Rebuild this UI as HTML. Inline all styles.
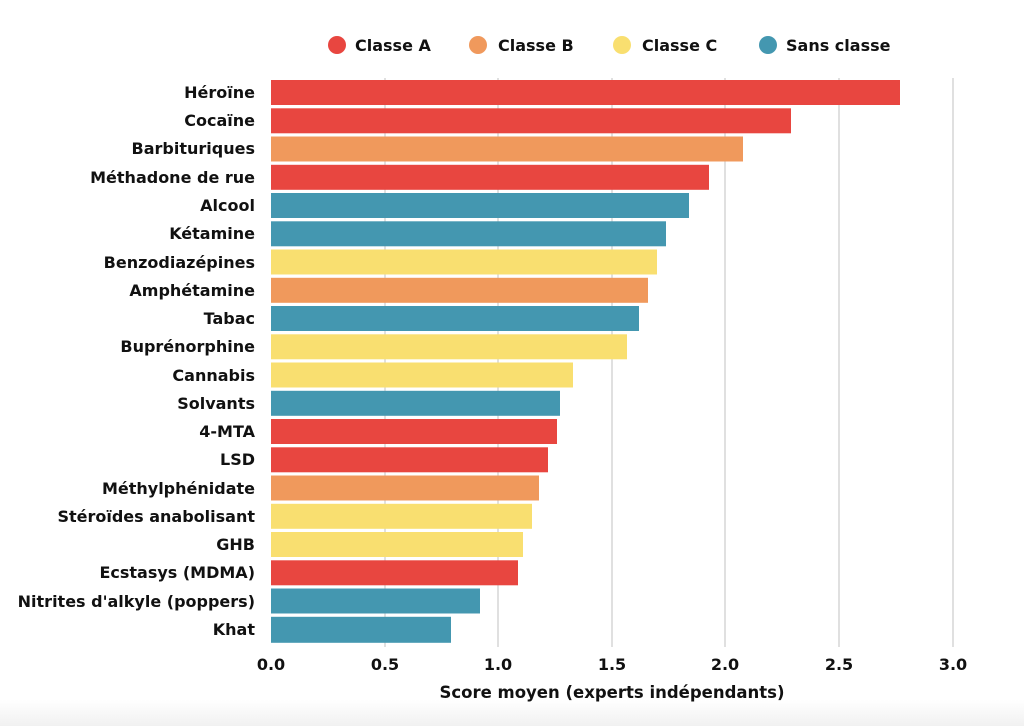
<!DOCTYPE html>
<html><head><meta charset="utf-8"><style>
html,body{margin:0;padding:0;background:#fff;}
svg{display:block;font-family:"DejaVu Sans","Liberation Sans",sans-serif;}
</style></head><body>
<svg width="1024" height="726" viewBox="0 0 1024 726" xmlns="http://www.w3.org/2000/svg">
<defs><linearGradient id="g" x1="0" y1="0" x2="0" y2="1"><stop offset="0" stop-color="#fff"/><stop offset="1" stop-color="#f1f1f1"/></linearGradient></defs>
<rect width="1024" height="726" fill="#fff"/>
<rect y="700" width="1024" height="26" fill="url(#g)"/>
<g font-size="16" fill="#111" font-weight="bold">
<circle cx="337" cy="45" r="9" fill="#e84640"/><text x="355" y="51">Classe A</text>
<circle cx="478" cy="45" r="9" fill="#f0995c"/><text x="498" y="51">Classe B</text>
<circle cx="622" cy="45" r="9" fill="#f9df70"/><text x="642" y="51">Classe C</text>
<circle cx="768" cy="45" r="9" fill="#4497b0"/><text x="786" y="51">Sans classe</text>
</g>
<g stroke="#cccccc" stroke-width="1.2">
<line x1="385" y1="78" x2="385" y2="647"/><line x1="498" y1="78" x2="498" y2="647"/>
<line x1="612" y1="78" x2="612" y2="647"/><line x1="725" y1="78" x2="725" y2="647"/>
<line x1="839" y1="78" x2="839" y2="647"/><line x1="953" y1="78" x2="953" y2="647"/>
</g>
<g font-size="16" font-weight="bold" fill="#111" text-anchor="middle">
<text x="271" y="670">0.0</text><text x="385" y="670">0.5</text><text x="498" y="670">1.0</text>
<text x="612" y="670">1.5</text><text x="725" y="670">2.0</text><text x="839" y="670">2.5</text><text x="953" y="670">3.0</text>
<text x="612" y="698" font-size="16.5">Score moyen (experts indépendants)</text>
</g>
<g font-size="16" font-weight="bold" fill="#111" text-anchor="end">
<text x="255" y="98">Héroïne</text><text x="255" y="126">Cocaïne</text><text x="255" y="154">Barbituriques</text>
<text x="255" y="183">Méthadone de rue</text><text x="255" y="211">Alcool</text><text x="255" y="239">Kétamine</text>
<text x="255" y="268">Benzodiazépines</text><text x="255" y="296">Amphétamine</text><text x="255" y="324">Tabac</text>
<text x="255" y="352">Buprénorphine</text><text x="255" y="381">Cannabis</text><text x="255" y="409">Solvants</text>
<text x="255" y="437">4-MTA</text><text x="255" y="465">LSD</text><text x="255" y="494">Méthylphénidate</text>
<text x="255" y="522">Stéroïdes anabolisant</text><text x="255" y="550">GHB</text><text x="255" y="578">Ecstasys (MDMA)</text>
<text x="255" y="607">Nitrites d'alkyle (poppers)</text><text x="255" y="635">Khat</text>
</g>
<g>
<rect x="271" y="80.0" width="629" height="25" fill="#e84640"/>
<rect x="271" y="108.3" width="520" height="25" fill="#e84640"/>
<rect x="271" y="136.5" width="472" height="25" fill="#f0995c"/>
<rect x="271" y="164.8" width="438" height="25" fill="#e84640"/>
<rect x="271" y="193.0" width="418" height="25" fill="#4497b0"/>
<rect x="271" y="221.3" width="395" height="25" fill="#4497b0"/>
<rect x="271" y="249.5" width="386" height="25" fill="#f9df70"/>
<rect x="271" y="277.8" width="377" height="25" fill="#f0995c"/>
<rect x="271" y="306.0" width="368" height="25" fill="#4497b0"/>
<rect x="271" y="334.3" width="356" height="25" fill="#f9df70"/>
<rect x="271" y="362.5" width="302" height="25" fill="#f9df70"/>
<rect x="271" y="390.8" width="289" height="25" fill="#4497b0"/>
<rect x="271" y="419.0" width="286" height="25" fill="#e84640"/>
<rect x="271" y="447.3" width="277" height="25" fill="#e84640"/>
<rect x="271" y="475.5" width="268" height="25" fill="#f0995c"/>
<rect x="271" y="503.8" width="261" height="25" fill="#f9df70"/>
<rect x="271" y="532.0" width="252" height="25" fill="#f9df70"/>
<rect x="271" y="560.3" width="247" height="25" fill="#e84640"/>
<rect x="271" y="588.5" width="209" height="25" fill="#4497b0"/>
<rect x="271" y="616.8" width="180" height="26" fill="#4497b0"/>
</g>
</svg>
</body></html>
